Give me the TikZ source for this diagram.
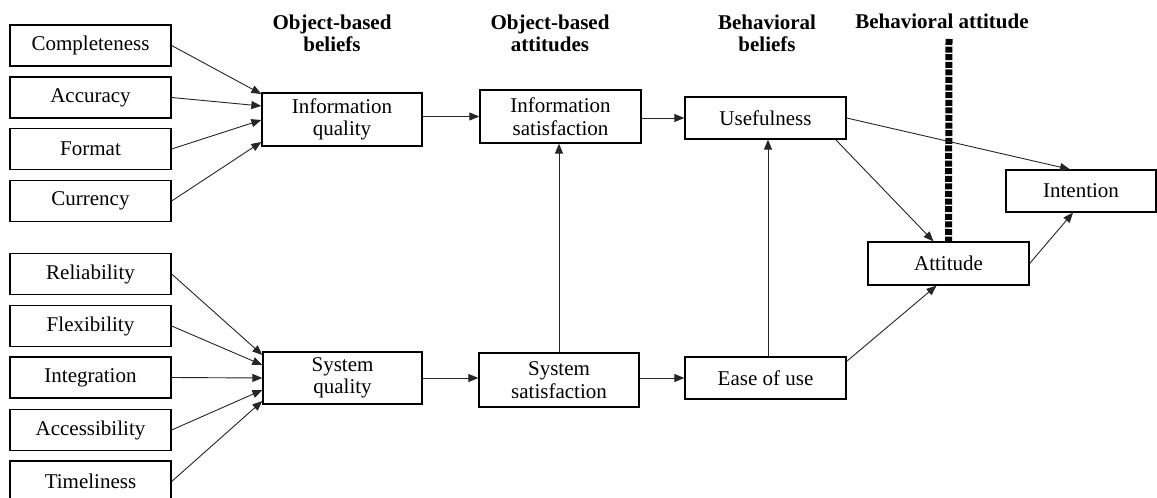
\documentclass[tikz,border=0pt]{standalone}
\usepackage{fontspec}
\setmainfont{Liberation Serif}
\usetikzlibrary{arrows.meta,calc}

\tikzset{
  box/.style={draw=black, line width=1.3bp, rectangle, inner sep=0pt,
              align=center, font=\fontsize{21bp}{22.5bp}\selectfont},
  head/.style={inner sep=0pt, align=center,
               font=\fontsize{21bp}{22.5bp}\selectfont\bfseries},
  link/.style={draw=black!85, line width=0.9bp,
               -{Triangle[length=10bp,width=8bp]}},
  divider/.style={draw=black, line width=7bp, dash pattern=on 6bp off 1.6bp}
}

\begin{document}
\begin{tikzpicture}[x=1bp, y=-1bp]
  \fill[white, use as bounding box] (0,0) rectangle (1157,498);

  % column headings
  \node[head, anchor=north] (hob) at (332,14.5) {Object-based\\beliefs};
  \node[head, anchor=north] (hoa) at (550,14.5) {Object-based\\attitudes};
  \node[head, anchor=north] (hbb) at (767,14.5) {Behavioral\\beliefs};
  \node[head, anchor=base]  (hba) at (942,28.5) {Behavioral attitude};

  % information quality antecedents
  \node[box, minimum width=161bp, minimum height=41bp] (comp) at (90.5,45.5)  {Completeness};
  \node[box, minimum width=161bp, minimum height=41bp] (acc)  at (90.5,97.5)  {Accuracy};
  \node[box, minimum width=161bp, minimum height=41bp] (fmt)  at (90.5,149)   {Format};
  \node[box, minimum width=161bp, minimum height=41bp] (cur)  at (90.5,201)   {Currency};

  % system quality antecedents
  \node[box, minimum width=161bp, minimum height=41bp] (rel)  at (90.5,274)   {Reliability};
  \node[box, minimum width=161bp, minimum height=41bp] (flex) at (90.5,326)   {Flexibility};
  \node[box, minimum width=161bp, minimum height=41bp] (intg) at (90.5,377.5) {Integration};
  \node[box, minimum width=161bp, minimum height=41bp] (accs) at (90.5,430)   {Accessibility};
  \node[box, minimum width=161bp, minimum height=41bp] (time) at (90.5,481.5) {Timeliness};

  % object-based beliefs and attitudes
  \node[box, minimum width=160bp, minimum height=53bp] (iq)   at (342,119.5)  {Information\\quality};
  \node[box, minimum width=159bp, minimum height=52bp] (sq)   at (342.5,378)  {System\\quality};
  \node[box, minimum width=161bp, minimum height=53bp] (isat) at (560.5,116.5){Information\\satisfaction};
  \node[box, minimum width=160bp, minimum height=54bp] (ssat) at (559,380)    {System\\satisfaction};

  % behavioral beliefs, attitude and intention
  \node[box, minimum width=161bp, minimum height=42bp] (use)  at (765.5,118)  {Usefulness};
  \node[box, minimum width=161bp, minimum height=42bp] (eou)  at (765.5,378)  {Ease of use};
  \node[box, minimum width=161bp, minimum height=43bp] (att)  at (948.5,263.5){Attitude};
  \node[box, minimum width=150bp, minimum height=42bp] (int)  at (1081,191)   {Intention};

  % heavy dashed divider above the attitude box
  \coordinate (dtop) at (949,39);
  \draw[divider] (dtop) -- (att.north);

  % antecedents -> information quality
  \draw[link] (comp.east) -- ([yshift=25.5bp]iq.west);
  \draw[link] (acc.east)  -- ([yshift=13.5bp]iq.west);
  \draw[link] (fmt.east)  -- ([yshift=-0.5bp]iq.west);
  \draw[link] (cur.east)  -- ([yshift=-22.5bp]iq.west);

  % antecedents -> system quality
  \draw[link] (rel.east)  -- ([yshift=23bp]sq.west);
  \draw[link] (flex.east) -- ([yshift=13bp]sq.west);
  \draw[link] (intg.east) -- (sq.west);
  \draw[link] (accs.east) -- ([yshift=-12bp]sq.west);
  \draw[link] (time.east) -- ([yshift=-23bp]sq.west);

  % main chain
  \draw[link] (iq.east|-isat.west) -- (isat.west);
  \draw[link] (isat.east|-use.west) -- (use.west);
  \draw[link] (sq.east) -- (sq.east-|ssat.west);
  \draw[link] (ssat.east|-eou.west) -- (eou.west);
  \draw[link] (ssat.north) -- (ssat.north|-isat.south);
  \draw[link] ([xshift=2.5bp]eou.north) -- ([xshift=2.5bp]use.south);

  % towards attitude and intention
  \draw[link] (use.east) -- ([xshift=-11bp]int.north);
  \draw[link] ([xshift=-11bp]use.south east) -- ([xshift=-15bp]att.north);
  \draw[link] ([yshift=-5bp]eou.north east) -- ([xshift=-12bp]att.south);
  \draw[link] (att.east) -- ([xshift=-8bp]int.south);
\end{tikzpicture}
\end{document}
